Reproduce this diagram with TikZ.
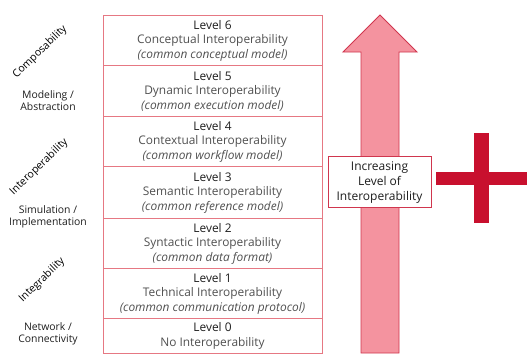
\documentclass[tikz,border=0pt]{standalone}
\usepackage{fontspec}
\setmainfont{Open Sans}
\usepackage{xcolor}
\definecolor{boxred}{HTML}{E67883}
\definecolor{arrfill}{HTML}{F4939F}
\definecolor{arrline}{HTML}{D0364E}
\definecolor{crimson}{HTML}{C8102E}
\definecolor{txtdark}{HTML}{1E1E1E}
\definecolor{txtgray}{HTML}{505050}
\begin{document}
\begin{tikzpicture}[x=1pt,y=-1pt,
  lvl/.style={draw=boxred,line width=0.9pt,minimum width=219pt,inner sep=0pt,align=center,
    font=\fontsize{11.9}{14.5}\selectfont,text=txtdark},
  side/.style={align=center,font=\fontsize{10.4}{12.5}\selectfont,text=txtdark},
  cat/.style={font=\fontsize{10.6}{11}\selectfont,text=black,rotate=44},
  lab/.style={draw=arrline,fill=white,line width=0.9pt,align=center,minimum width=103pt,minimum height=51pt,inner sep=0pt,
    font=\fontsize{12}{15}\selectfont,text=txtdark}]
\useasboundingbox (0,0) rectangle (529,357);
\newcommand{\gl}[1]{{\color{txtgray}#1}}
\newcommand{\il}[1]{{\color{txtgray}\itshape #1}}
\node[lvl,minimum height=50pt] (l6) at (212.5,40) {\strut Level 6\\\gl{Conceptual Interoperability}\\\il{(common conceptual model)}};
\node[lvl,minimum height=51pt] (l5) at (212.5,90.5) {\strut Level 5\\\gl{Dynamic Interoperability}\\\il{(common execution model)}};
\node[lvl,minimum height=50pt] (l4) at (212.5,141) {\strut Level 4\\\gl{Contextual Interoperability}\\\il{(common workflow model)}};
\node[lvl,minimum height=52pt] (l3) at (212.5,192) {\strut Level 3\\\gl{Semantic Interoperability}\\\il{(common reference model)}};
\node[lvl,minimum height=50pt] (l2) at (212.5,243) {\strut Level 2\\\gl{Syntactic Interoperability}\\\il{(common data format)}};
\node[lvl,minimum height=50pt] (l1) at (212.5,293) {\strut Level 1\\\gl{Technical Interoperability}\\\il{(common communication protocol)}};
\node[lvl,minimum height=35pt] (l0) at (212.5,335.5) {\strut Level 0\\\gl{No Interoperability}};
% left labels
\node[cat] (c1) at (40,52) {Composability};
\node[side] (s1) at (48,100.5) {Modeling /\\Abstraction};
\node[cat] (c2) at (39,167) {Interoperability};
\node[side] (s2) at (48,217) {Simulation /\\Implementation};
\node[cat] (c3) at (42,280) {Integrability};
\node[side] (s3) at (48,334) {Network /\\Connectivity};
% arrow
\draw[fill=arrfill,draw=arrline,line width=0.9pt,line join=miter]
  (361,353) -- (361,52) -- (343,52) -- (380,15) -- (417,52) -- (399,52) -- (399,353) -- cycle;
\node[lab] (inc) at (379.5,181.5) {\strut Increasing\\Level of\\Interoperability};
% plus
\fill[crimson] (436,172) rectangle (527,185);
\fill[crimson] (474,133) rectangle (489,223);
\end{tikzpicture}
\end{document}
